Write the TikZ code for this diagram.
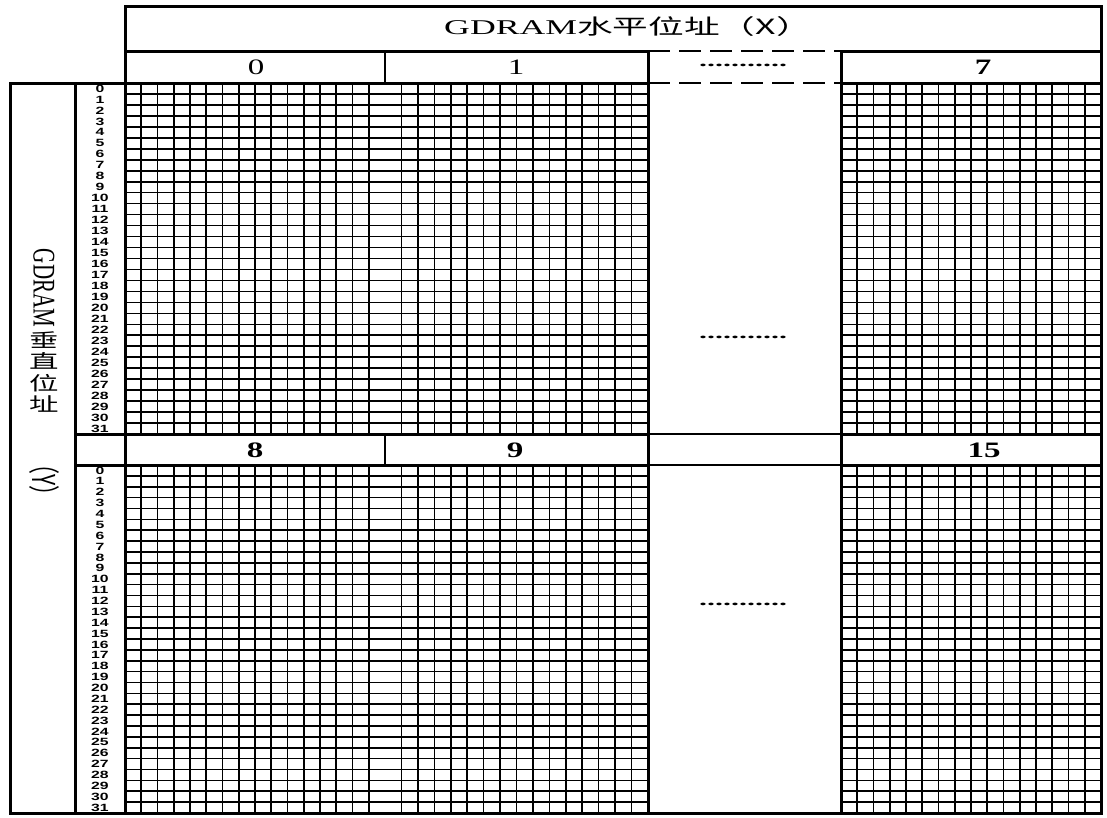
\documentclass[tikz,border=0pt]{standalone}
\usepackage{fontspec}
\setmainfont{Liberation Serif}
\newfontfamily\cjkfont{Noto Sans CJK TC}
\newfontfamily\numfont{Liberation Sans}
\usetikzlibrary{positioning}
\tikzset{
  thickrule/.style={line width=3pt, line cap=rect},
  gridrule/.style={line width=1.6pt},
  midrule/.style={line width=1.5pt},
  dashrule/.style={line width=2.6pt, dash pattern=on 22pt off 9pt},
  headlabel/.style={inner sep=0pt, font=\fontsize{21}{21}\selectfont},
  digitlabel/.style={inner sep=0pt, font=\fontsize{22}{22}\selectfont},
  boldlabel/.style={inner sep=0pt, font=\bfseries\fontsize{22}{22}\selectfont},
  rowlabel/.style={inner sep=0pt, font=\numfont\bfseries\fontsize{10.5}{10.5}\selectfont},
  dotlabel/.style={inner sep=0pt, font=\bfseries\fontsize{16}{16}\selectfont},
  ylabel/.style={inner sep=0pt, font=\fontsize{21}{21}\selectfont},
  ychar/.style={inner sep=0pt, font=\cjkfont\fontsize{19}{19}\selectfont,
    text height=16pt, text depth=5pt}
}
\newcommand{\wide}[2][1.8]{\scalebox{#1}[1]{#2}}

\begin{document}
\begin{tikzpicture}[x=1pt, y=-1pt]
\useasboundingbox (0,0) rectangle (1107,817);

% bit grid of the columns 0, 1, 7 and 8, 9, 15
\foreach \bx/\ex in {125/385, 385/648, 841/1101} {
  \foreach \i in {1,...,15} {
    \draw[gridrule] ({\bx+\i*(\ex-\bx)/16}, 83) -- ({\bx+\i*(\ex-\bx)/16}, 434);
    \draw[gridrule] ({\bx+\i*(\ex-\bx)/16}, 465) -- ({\bx+\i*(\ex-\bx)/16}, 813);
  }
  \foreach \j in {1,...,31} {
    \draw[gridrule] (\bx, {83+\j*351/32}) -- (\ex, {83+\j*351/32});
    \draw[gridrule] (\bx, {465+\j*348/32}) -- (\ex, {465+\j*348/32});
  }
}

% frame
\draw[thickrule] (125,83) -- (125,6) -- (1101,6) -- (1101,813) -- (10,813) -- (10,83) -- (648,83);
\draw[thickrule] (841,83) -- (1101,83);
\draw[thickrule] (125,51) -- (648,51) (841,51) -- (1101,51);
\draw[dashrule] (648,51) -- (841,51) (648,83) -- (841,83);
\draw[thickrule] (75,83) -- (75,813) (125,83) -- (125,813);
\draw[thickrule] (648,51) -- (648,813) (841,51) -- (841,813);
\draw[thickrule] (75,434) -- (648,434) (841,434) -- (1101,434);
\draw[thickrule] (75,465) -- (648,465) (841,465) -- (1101,465);
\draw[midrule] (648,434) -- (841,434) (648,465) -- (841,465);
\draw[midrule] (385,51) -- (385,83) (385,434) -- (385,465);

% labels
\node[headlabel] (xhead) at (628,27) {\wide[1.7]{GDRAM{\cjkfont 水平位址（X）}}};
\node[digitlabel] (c0) at (256,67) {\wide[1.5]{0}};
\node[digitlabel] (c1) at (516,67) {\wide[1.5]{1}};
\node[dotlabel] (cdots) at (743,65) {\wide[2]{...........}};
\node[boldlabel] (c7) at (983,67) {\wide[1.5]{7}};
\node[boldlabel] (c8) at (255,450) {\wide[1.5]{8}};
\node[boldlabel] (c9) at (515,450) {\wide[1.5]{9}};
\node[boldlabel] (c15) at (984,450) {\wide[1.5]{15}};
\node[dotlabel] (mdots1) at (743,337) {\wide[2]{...........}};
\node[dotlabel] (mdots2) at (743,604) {\wide[2]{...........}};

\foreach \j in {0,...,31} {
  \node[rowlabel] (ra\j) at (100, {83+(\j+0.5)*351/32}) {\wide[1.5]{\j}};
  \node[rowlabel] (rb\j) at (100, {465+(\j+0.5)*348/32}) {\wide[1.5]{\j}};
}

\node[ylabel] (ygd) at (44,288) {\wide[1.5]{\rotatebox{-90}{GDRAM}}};
\node[ychar] (yc1) at (44,342) {\wide[1.55]{垂}};
\node[ychar, below=0pt of yc1] (yc2) {\wide[1.55]{直}};
\node[ychar, below=0pt of yc2] (yc3) {\wide[1.55]{位}};
\node[ychar, below=0pt of yc3] (yc4) {\wide[1.55]{址}};
\node[ylabel] (yparen) at (44,480) {\wide[1.5]{\rotatebox{-90}{\cjkfont （Y）}}};

\end{tikzpicture}
\end{document}
